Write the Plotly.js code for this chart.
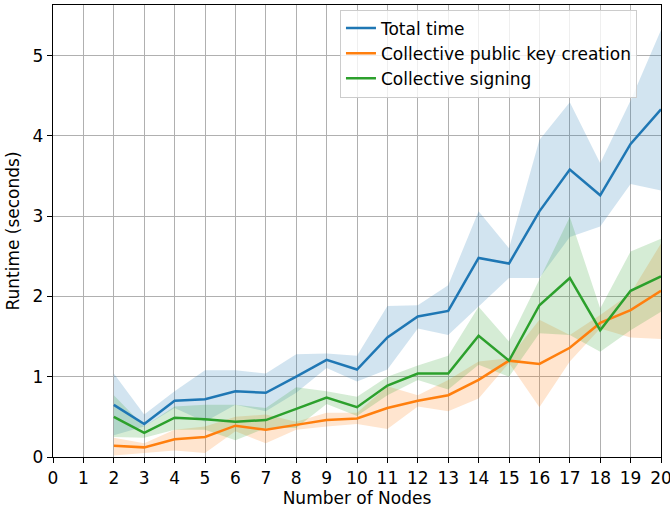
<!DOCTYPE html>
<html><head><meta charset="utf-8">
<script src="https://cdn.plot.ly/plotly-3.0.1.min.js"></script>
<style>body{margin:0;padding:0;background:#fff}#chart{width:670px;height:512px}</style>
</head><body><div id="chart"></div>
<script>
var nodes = [2,3,4,5,6,7,8,9,10,11,12,13,14,15,16,17,18,19,20];
var totalMean = [0.65,0.41,0.70,0.72,0.82,0.80,1.00,1.21,1.09,1.49,1.75,1.82,2.48,2.41,3.06,3.58,3.26,3.90,4.33];
var totalHi   = [1.04,0.53,0.82,1.08,1.08,1.04,1.28,1.29,1.26,1.88,1.89,2.14,3.06,2.60,3.95,4.42,3.66,4.44,5.32];
var totalLo   = [0.27,0.38,0.61,0.44,0.65,0.57,0.80,1.11,0.94,1.09,1.60,1.52,1.87,2.23,2.23,2.74,2.87,3.40,3.32];
var keyMean = [0.14,0.12,0.22,0.25,0.39,0.34,0.40,0.46,0.48,0.61,0.70,0.77,0.96,1.20,1.16,1.36,1.67,1.83,2.07];
var keyHi   = [0.24,0.17,0.34,0.38,0.50,0.53,0.44,0.55,0.55,0.88,0.77,0.96,1.19,1.23,1.71,1.52,1.77,2.04,2.66];
var keyLo   = [0.02,0.05,0.08,0.05,0.32,0.17,0.34,0.38,0.41,0.35,0.63,0.57,0.73,1.17,0.62,1.19,1.60,1.49,1.47];
var signMean = [0.50,0.30,0.49,0.47,0.44,0.46,0.60,0.74,0.62,0.89,1.04,1.04,1.51,1.20,1.89,2.23,1.58,2.07,2.25];
var signHi   = [0.77,0.38,0.63,0.65,0.65,0.61,0.87,0.82,0.75,1.00,1.14,1.26,1.87,1.44,2.21,2.99,1.85,2.56,2.72];
var signLo   = [0.25,0.24,0.34,0.34,0.21,0.36,0.36,0.66,0.51,0.77,0.96,0.84,1.15,1.00,1.54,1.52,1.31,1.58,1.81];
var names = ['Total time','Collective public key creation','Collective signing'];
var colors = ['#1f77b4','#ff7f0e','#2ca02c'];
var xTicks = [0,1,2,3,4,5,6,7,8,9,10,11,12,13,14,15,16,17,18,19,20];
var yTicks = [0,1,2,3,4,5];

var series = [[totalMean,totalLo,totalHi],[keyMean,keyLo,keyHi],[signMean,signLo,signHi]];
var traces = [];
series.forEach(function(s,i){
  traces.push({x: nodes.concat(nodes.slice().reverse()), y: s[2].concat(s[1].slice().reverse()),
    fill:'toself', fillcolor: colors[i], opacity:0.2, line:{width:0}, mode:'lines',
    showlegend:false, hoverinfo:'skip'});
});
series.forEach(function(s,i){
  traces.push({x: nodes, y: s[0], mode:'lines', name: names[i], line:{color:colors[i], width:2.5}});
});
var font = {family:'DejaVu Sans, sans-serif', size:17, color:'#000'};
var layout = {
  width:670, height:512, margin:{l:53,r:9,t:5,b:55},
  paper_bgcolor:'#fff', plot_bgcolor:'#fff', font: font, showlegend:true,
  xaxis:{range:[0,20], tickvals:xTicks, ticktext:xTicks.map(String), showgrid:true, gridcolor:'#b0b0b0', gridwidth:1,
    showline:true, mirror:true, linecolor:'#000', linewidth:1.2, ticks:'outside', ticklen:5, tickcolor:'#000',
    ticklabeloverflow:'allow', zeroline:false, title:{text:'Number of Nodes', font:font, standoff:4}},
  yaxis:{range:[0,5.63], tickvals:yTicks, ticktext:yTicks.map(String), showgrid:true, gridcolor:'#b0b0b0', gridwidth:1,
    showline:true, mirror:true, linecolor:'#000', linewidth:1.2, ticks:'outside', ticklen:5, tickcolor:'#000',
    zeroline:false, title:{text:'Runtime (seconds)', font:font, standoff:8}},
  legend:{x:0.472, y:0.99, xanchor:'left', yanchor:'top', bgcolor:'rgba(255,255,255,0.8)', bordercolor:'#ccc', borderwidth:1,
    font:font, tracegroupgap:0}
};
Plotly.newPlot('chart', traces, layout, {displayModeBar:false, staticPlot:true});
</script></body></html>
